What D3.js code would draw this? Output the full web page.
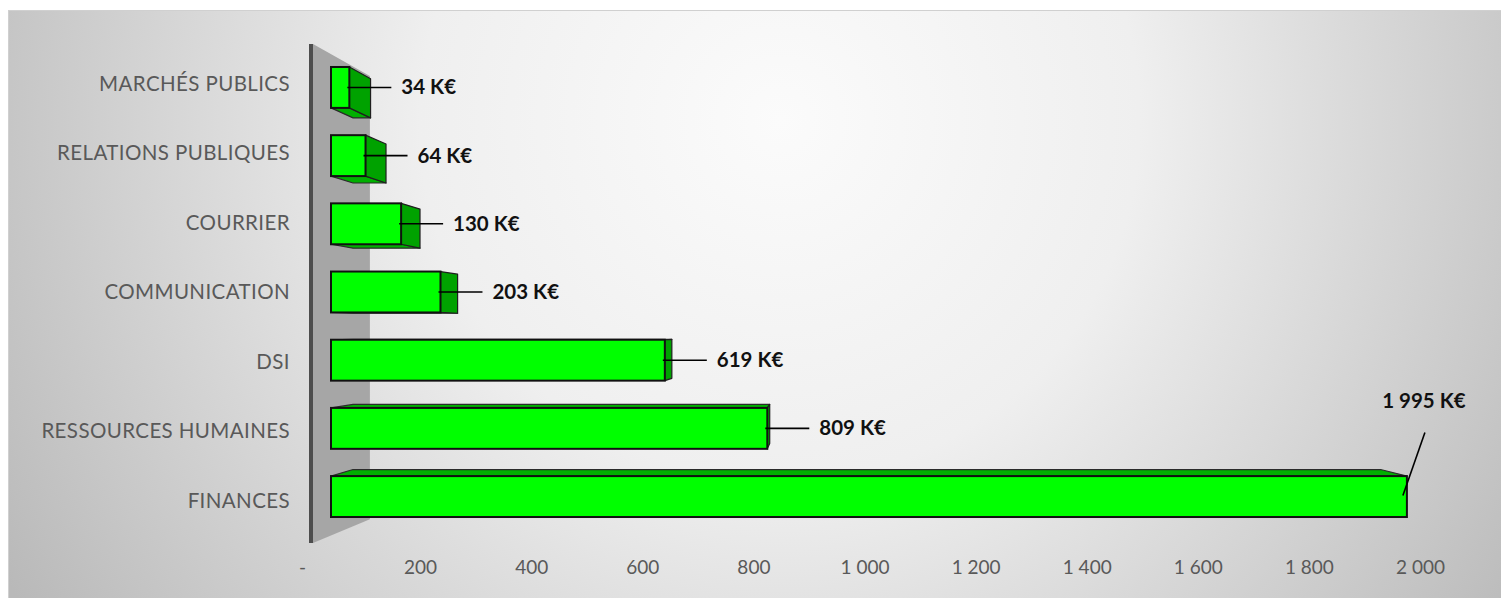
<!DOCTYPE html>
<html>
<head>
<meta charset="utf-8">
<script src="https://cdn.jsdelivr.net/npm/d3@7"></script>
<style>
  html, body { margin: 0; padding: 0; background: #ffffff; }
  svg { display: block; }
</style>
</head>
<body>
<svg id="chart" width="1501" height="598"></svg>
<script>
// Budget par direction (K€)
const categories = [
  "MARCHÉS PUBLICS",
  "RELATIONS PUBLIQUES",
  "COURRIER",
  "COMMUNICATION",
  "DSI",
  "RESSOURCES HUMAINES",
  "FINANCES"
];
const values = [34, 64, 130, 203, 619, 809, 1995];
const tickValues = [0, 200, 400, 600, 800, 1000, 1200, 1400, 1600, 1800, 2000];

const W = 1501, H = 598;
const svg = d3.select("#chart");

// French number format: space as thousands separator
const fr = d3.formatLocale({ decimal: ",", thousands: " ", grouping: [3], currency: ["", " €"] });
const fmt = fr.format(",d");
const tickFormat = v => v === 0 ? "-" : fmt(v);
const valueFormat = v => fmt(v) + " K€";

// Perspective: points recede toward a vanishing point
const VP = [821, 330];
const toward = ([x, y], k) => [VP[0] + (x - VP[0]) * k, VP[1] + (y - VP[1]) * k];
const BAR_BACK = 0.955;   // scale of a bar's back face relative to its front face
const WALL_BACK = 0.888;  // scale of the back edge of the side wall
const LABEL_PLANE = 1.02; // category labels sit slightly in front of the bars

// Scales: bar front plane, and the floor's front edge for the value axis
const x = d3.scaleLinear().domain([0, 2000]).range([331, 1409.6]);
const xAxisScale = d3.scaleLinear().domain([0, 2000]).range([309, 1420]);
const y = d3.scaleBand().domain(categories).range([53.35, 530.65]).paddingInner(0.4).paddingOuter(0.2);

// Background
const defs = svg.append("defs");
const grad = defs.append("radialGradient")
  .attr("id", "bg").attr("gradientUnits", "userSpaceOnUse")
  .attr("cx", 780).attr("cy", 120).attr("r", 900);
grad.append("stop").attr("offset", 0).attr("stop-color", "#fbfbfb");
grad.append("stop").attr("offset", 0.4).attr("stop-color", "#efefef");
grad.append("stop").attr("offset", 1).attr("stop-color", "#b9b9b9");

svg.append("rect").attr("x", 0).attr("y", 0).attr("width", W).attr("height", H).attr("fill", "#ffffff");
svg.append("rect")
  .attr("x", 8.5).attr("y", 10.5).attr("width", W).attr("height", H)
  .attr("fill", "url(#bg)").attr("stroke", "#d0d0d0").attr("stroke-width", 1);

// Side wall (left), seen in perspective
const wallX = 313, wallTop = 44, wallBottom = 543;
const wallPts = [[wallX, wallTop], toward([wallX, wallTop], WALL_BACK),
                 toward([wallX, wallBottom], WALL_BACK), [wallX, wallBottom]];
svg.append("polygon")
  .attr("points", wallPts.map(p => p.join(",")).join(" "))
  .attr("fill", "#a6a6a6");
svg.append("rect")
  .attr("x", wallX - 4).attr("y", wallTop).attr("width", 4).attr("height", wallBottom - wallTop)
  .attr("fill", "#4d4d4d");

// Bars
const poly = pts => pts.map(p => p[0].toFixed(2) + "," + p[1].toFixed(2)).join(" ");
const data = categories.map((c, i) => ({ cat: c, v: values[i] }));

const bars = svg.append("g").selectAll("g").data(data).join("g");
bars.each(function (d) {
  const g = d3.select(this);
  const x0 = x(0), x1 = x(d.v);
  const y0 = y(d.cat), y1 = y(d.cat) + y.bandwidth();
  const fTL = [x0, y0], fTR = [x1, y0], fBR = [x1, y1], fBL = [x0, y1];
  const bTL = toward(fTL, BAR_BACK), bTR = toward(fTR, BAR_BACK),
        bBR = toward(fBR, BAR_BACK), bBL = toward(fBL, BAR_BACK);

  // top face when the bar lies below the vanishing point, bottom face otherwise
  if (y0 > VP[1]) {
    g.append("polygon").attr("points", poly([fTL, fTR, bTR, bTL]))
      .attr("fill", "#00b000").attr("stroke", "#2b2b2b").attr("stroke-width", 1.2).attr("stroke-linejoin", "round");
  }
  if (y1 < VP[1]) {
    g.append("polygon").attr("points", poly([fBL, fBR, bBR, bBL]))
      .attr("fill", "#00b000").attr("stroke", "#2b2b2b").attr("stroke-width", 1.2).attr("stroke-linejoin", "round");
  }
  // right end face
  if (x1 < VP[0]) {
    g.append("polygon").attr("points", poly([fTR, bTR, bBR, fBR]))
      .attr("fill", "#00a200").attr("stroke", "#1f1f1f").attr("stroke-width", 1.2).attr("stroke-linejoin", "round");
  }
  // front face
  g.append("rect")
    .attr("x", x0).attr("y", y0).attr("width", x1 - x0).attr("height", y1 - y0)
    .attr("fill", "#00ff00").attr("stroke", "#111111").attr("stroke-width", 2);
});

// Value labels with leader lines
const labels = svg.append("g");
data.forEach((d, i) => {
  const xe = x(d.v), yc = y(d.cat) + y.bandwidth() / 2;
  const above = i === data.length - 1;
  if (above) {
    labels.append("line")
      .attr("x1", xe - 4).attr("y1", yc - 1).attr("x2", xe + 18).attr("y2", yc - 64)
      .attr("stroke", "#000").attr("stroke-width", 1.6);
    labels.append("text")
      .attr("x", xe + 17).attr("y", yc - 89)
      .attr("text-anchor", "middle")
      .attr("font-family", "Lato, 'Open Sans', sans-serif").attr("font-weight", 700)
      .attr("font-size", 20.5).attr("fill", "#111")
      .text(valueFormat(d.v));
  } else {
    labels.append("line")
      .attr("x1", xe - 2).attr("y1", yc).attr("x2", xe + 42).attr("y2", yc)
      .attr("stroke", "#000").attr("stroke-width", 1.6);
    labels.append("text")
      .attr("x", xe + 52).attr("y", yc + 7)
      .attr("font-family", "Lato, 'Open Sans', sans-serif").attr("font-weight", 700)
      .attr("font-size", 20.5).attr("fill", "#111")
      .text(valueFormat(d.v));
  }
});

// Category labels
svg.append("g").selectAll("text").data(categories).join("text")
  .attr("x", 290)
  .attr("y", c => toward([0, y(c) + y.bandwidth() / 2], LABEL_PLANE)[1] + 8)
  .attr("text-anchor", "end")
  .attr("font-family", "Lato, 'Open Sans', sans-serif")
  .attr("font-size", 20.5).attr("letter-spacing", 0.4).attr("fill", "#595959")
  .text(c => c);

// Value axis along the floor's front edge
const axis = d3.axisBottom(xAxisScale).tickValues(tickValues).tickFormat(tickFormat).tickSize(0);
const axisG = svg.append("g").attr("transform", "translate(0,560)").call(axis);
axisG.select(".domain").remove();
axisG.selectAll("text")
  .attr("font-family", "Lato, 'Open Sans', sans-serif")
  .attr("font-size", 19).attr("fill", "#595959")
  .attr("dy", "0.71em").attr("y", 0)
  .attr("dx", d => d === 0 ? -7 : 0);
</script>
</body>
</html>
